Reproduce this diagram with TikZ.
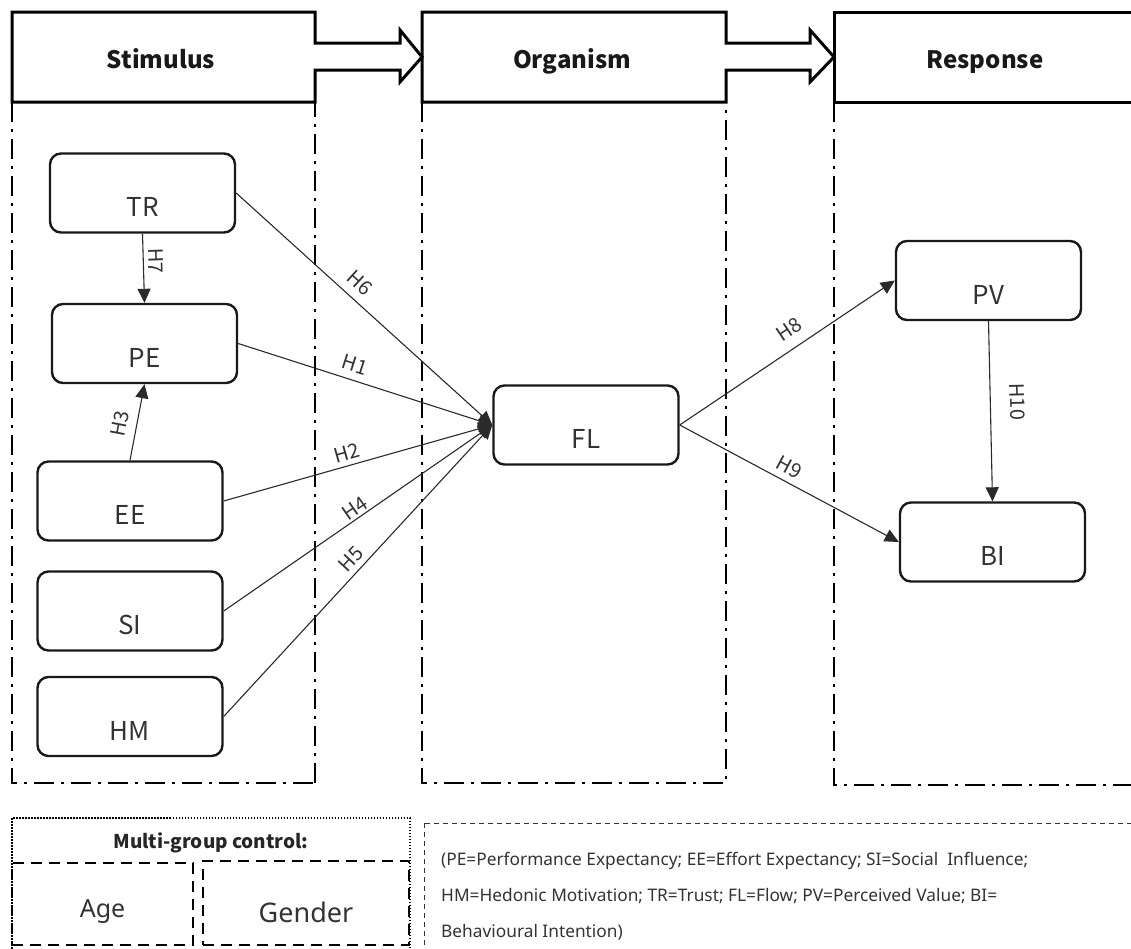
\documentclass[tikz,border=0pt]{standalone}
\usepackage{fontspec}
\setmainfont{Noto Sans CJK SC}
\newfontfamily\widefont{Noto Sans}
\usetikzlibrary{arrows.meta}
\definecolor{ink}{HTML}{2A2A2A}
\definecolor{txt}{HTML}{333333}
\begin{document}
\begin{tikzpicture}[x=1pt,y=-1pt,
  hdr/.style={draw=black, line width=3pt, line join=miter},
  htext/.style={font=\fontsize{24}{28}\selectfont\bfseries, text=black!90, anchor=base},
  col/.style={draw=black, line width=2.4pt, dash pattern=on 20pt off 7pt on 3pt off 7pt},
  box/.style={draw=black!90, line width=2.4pt, rounded corners=11pt, minimum width=185pt, minimum height=79pt, inner sep=0pt},
  lab/.style={font=\fontsize{26}{30}\selectfont, text=txt, yshift=-14pt},
  conn/.style={draw=ink, line width=1.1pt, -{Triangle[length=14pt,width=13pt]}},
  hl/.style={font=\fontsize{20}{22}\selectfont, text=txt, sloped, inner sep=0pt},
  dbox/.style={draw=black, line width=2.4pt, dash pattern=on 11pt off 7pt},
  legend/.style={font=\widefont\fontsize{17.3}{20}\selectfont, text=txt, anchor=base west, inner sep=0pt}
]
\useasboundingbox (0,0) rectangle (1131,948);
\clip (0,0) rectangle (1131,948);

% header block arrows
\draw[hdr] (12,12) -- (315,12) -- (315,43) -- (400,43) -- (400,30) -- (422,57) -- (400,82) -- (400,70) -- (315,70) -- (315,102) -- (12,102) -- cycle;
\draw[hdr] (422,12) -- (726,12) -- (726,43) -- (810,43) -- (810,30) -- (834,57) -- (810,82) -- (810,70) -- (726,70) -- (726,102) -- (422,102) -- cycle;
\draw[hdr] (834,12) -- (1145,12) -- (1145,102) -- (834,102) -- cycle;
\node[htext] (stim) at (161,68) {Stimulus};
\node[htext] (org) at (572,68) {Organism};
\node[htext] (resp) at (985,68) {Response};

% dash-dot columns
\draw[col, line width=1.6pt] (12,102) -- (12,783) -- (315,783);
\draw[col] (315,783) -- (315,102);
\draw[col] (422,102) -- (422,783) -- (726,783) -- (726,102);
\draw[col] (834,102) -- (834,785) -- (1145,785);

% construct nodes
\node[box, label={[lab]center:TR}] (TR) at (142.5,193) {};
\node[box, label={[lab]center:PE}] (PE) at (144.5,343.5) {};
\node[box, label={[lab]center:EE}] (EE) at (130,501) {};
\node[box, label={[lab]center:SI}] (SI) at (130,611) {};
\node[box, label={[lab]center:HM}] (HM) at (130,716.5) {};
\node[box, label={[lab]center:FL}] (FL) at (586,425) {};
\node[box, label={[lab]center:PV}] (PV) at (988.5,280.5) {};
\node[box, label={[lab]center:BI}] (BI) at (992.5,542) {};

% connectors
\draw[conn] (TR.east) -- (FL.west) node[hl, pos=0.44, above=8pt] {H6};
\draw[conn] (PE.east) -- (FL.west) node[hl, pos=0.44, above=7.5pt] {H1};
\draw[conn] (EE.east) -- (FL.west) node[hl, pos=0.47, above=5pt] {H2};
\draw[conn] (SI.east) -- (FL.west) node[hl, pos=0.51, above=2pt] {H4};
\draw[conn] (HM.east) -- (FL.west) node[hl, pos=0.51, above=5pt] {H5};
\draw[conn] (TR.south) -- (PE.north) node[hl, pos=0.4, above=5pt] {H7};
\draw[conn] (EE.north) -- (PE.south) node[hl, pos=0.44, above=9pt] {H3};
\draw[conn] (FL.east) -- (PV.west) node[hl, pos=0.556, above=10pt] {H8};
\draw[conn] (FL.east) -- (BI.west) node[hl, pos=0.47, above=6pt] {H9};
\draw[conn] (PV.south) -- (BI.north) node[hl, pos=0.45, above=19pt] {H10};

% multi-group control
\draw[draw=black, line width=1.5pt, dash pattern=on 1.5pt off 1.5pt] (12,818) rectangle (410,960);
\node[font=\fontsize{19}{22}\selectfont\bfseries, text=black!85, anchor=base] (mg) at (211,848) {Multi-group control:};
\node[dbox, minimum width=181pt, minimum height=82pt, inner sep=0pt,
      label={[font=\widefont\fontsize{25}{28}\selectfont, text=txt, yshift=-8pt]center:Age}] (age) at (102.5,904) {};
\node[dbox, minimum width=206pt, minimum height=84pt, inner sep=0pt,
      label={[font=\widefont\fontsize{27}{30}\selectfont, text=txt, yshift=-9pt]center:Gender}] (gender) at (306,903) {};

% legend
\draw[draw=black!80, line width=1pt, dash pattern=on 5pt off 4pt] (424,823) rectangle (1145,960);
\node[legend] (l1) at (441,865) {(PE=Performance Expectancy; EE=Effort Expectancy; SI=Social\ \ Influence;};
\node[legend] (l2) at (441,901) {HM=Hedonic Motivation; TR=Trust; FL=Flow; PV=Perceived Value; BI=};
\node[legend] (l3) at (441,937) {Behavioural Intention)};
\end{tikzpicture}
\end{document}
